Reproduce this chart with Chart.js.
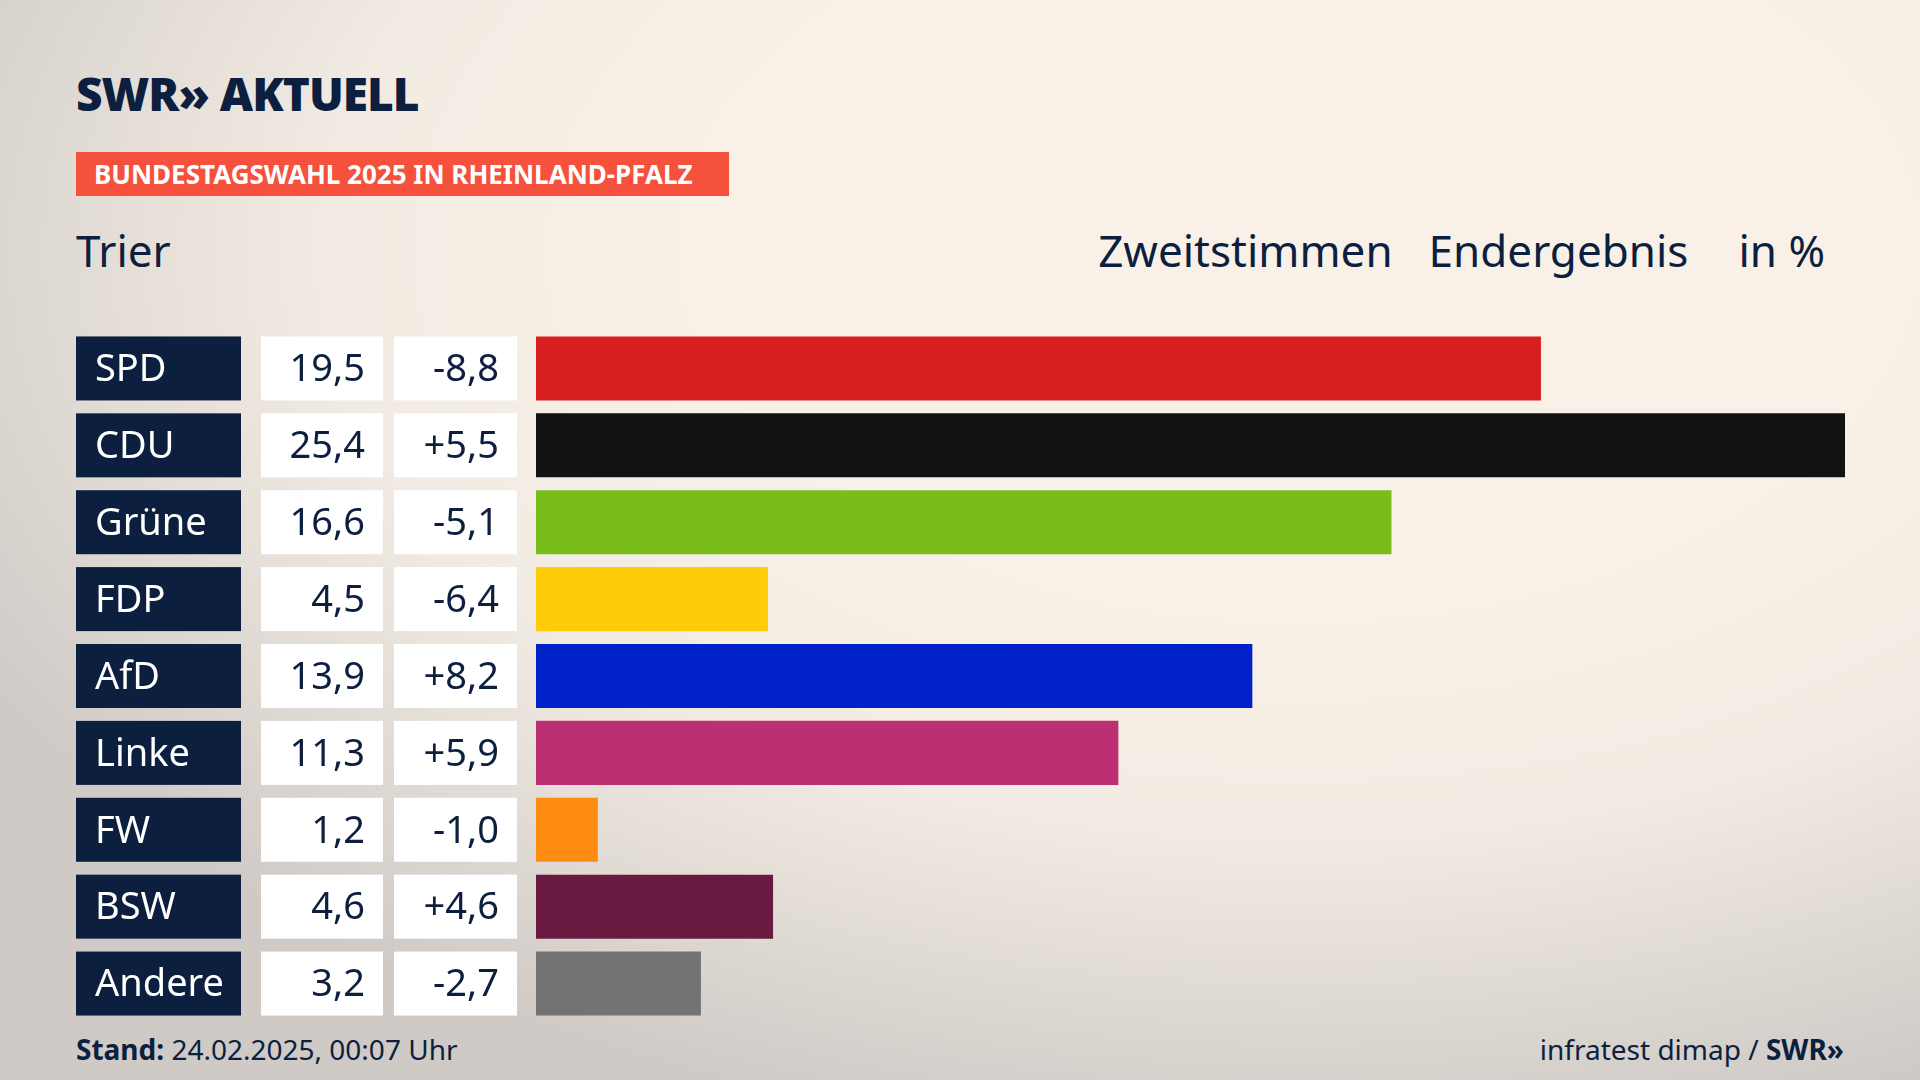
<!DOCTYPE html>
<html lang="de">
<head>
<meta charset="UTF-8">
<title>Bundestagswahl 2025 Trier</title>
<script src="https://cdn.jsdelivr.net/npm/chart.js"></script>
<style>
  body { margin:0; width:1920px; height:1080px; overflow:hidden; font-family:"Noto Sans", sans-serif; color:#0c1f3f;
    background: radial-gradient(ellipse 1500px 900px at 1300px 250px, #f9f1e7 40%, #f2ebe3 65%, #cfcac6 100%); }
  .abs { position:absolute; }
  #logo { left:76px; top:62px; font-size:46px; font-weight:900; letter-spacing:-1px; }
  #tag { left:76px; top:152px; width:653px; height:44px; background:#f5513d; color:#fff; font-weight:700; font-size:26px; line-height:44px; box-sizing:border-box; padding-left:18px; }
  #place { left:76px; top:220px; font-size:44px; }
  #head { right:95px; top:220px; font-size:44px; }
  #head span { margin-left:36px; }
  #stand { left:76px; top:1030px; font-size:28px; }
  #src { right:76px; top:1030px; font-size:28px; }
  #wrap { left:76px; top:330px; width:1769px; height:692px; }
</style>
</head>
<body>
<div class="abs" id="logo">SWR» AKTUELL</div>
<div class="abs" id="tag">BUNDESTAGSWAHL 2025 IN RHEINLAND-PFALZ</div>
<div class="abs" id="place">Trier</div>
<div class="abs" id="head">Zweitstimmen<span>Endergebnis</span><span style="margin-left:50px">in %</span></div>
<div class="abs" id="wrap"><canvas id="c"></canvas></div>
<div class="abs" id="stand"><b>Stand:</b> 24.02.2025, 00:07 Uhr</div>
<div class="abs" id="src">infratest dimap / <b>SWR»</b></div>
<script>
const parties = ['SPD','CDU','Grüne','FDP','AfD','Linke','FW','BSW','Andere'];
const shares = [19.5,25.4,16.6,4.5,13.9,11.3,1.2,4.6,3.2];
const changes = ['-8,8','+5,5','-5,1','-6,4','+8,2','+5,9','-1,0','+4,6','-2,7'];
const colors = ['#d71f1f','#121212','#79bd1b','#ffcc0a','#0021c8','#bc2f72','#ff8c12','#6a1a40','#737373'];

const boxes = {
  id:'boxes',
  afterDatasetsDraw(chart){
    const ctx = chart.ctx, y = chart.scales.y;
    ctx.save();
    ctx.font = '38px "Noto Sans"';
    ctx.textBaseline = 'middle';
    parties.forEach((p,i)=>{
      const cy = y.getPixelForValue(i), top = cy-32;
      ctx.fillStyle = '#0c1f3f'; ctx.fillRect(0,top,165,64);
      ctx.fillStyle = '#fff'; ctx.fillRect(185,top,122,64); ctx.fillRect(318,top,123,64);
      ctx.fillStyle = '#fff'; ctx.textAlign='left'; ctx.fillText(p,19,cy+2);
      ctx.fillStyle = '#0c1f3f'; ctx.textAlign='right';
      ctx.fillText(shares[i].toFixed(1).replace('.',','),289,cy+2);
      ctx.fillText(changes[i],423,cy+2);
    });
    ctx.restore();
  }
};

new Chart(document.getElementById('c'),{
  type:'bar',
  data:{ labels:parties, datasets:[{ data:shares, backgroundColor:colors, barPercentage:0.833, categoryPercentage:1 }]},
  options:{
    indexAxis:'y', responsive:true, maintainAspectRatio:false, animation:false,
    layout:{ padding:{ left:460, right:0, top:0, bottom:0 } },
    plugins:{ legend:{display:false}, tooltip:{enabled:false} },
    scales:{
      x:{ display:false, min:0, max:25.4 },
      y:{ display:false }
    }
  },
  plugins:[boxes]
});
</script>
</body>
</html>
